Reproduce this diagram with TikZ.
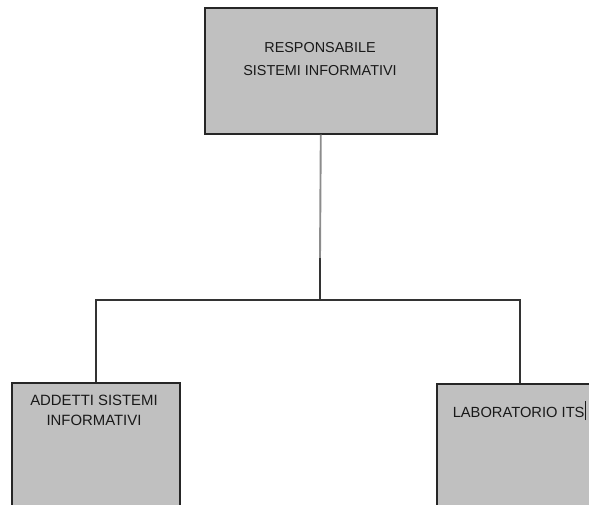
\documentclass[tikz,border=0pt]{standalone}
\usepackage{fontspec}
\setmainfont{Liberation Sans}
\begin{document}
\begin{tikzpicture}[x=1pt,y=1pt,
  box/.style={draw=black!85, line width=1.6pt, fill={rgb,255:red,192;green,192;blue,192}, inner sep=0pt, anchor=north west},
  lbl/.style={inner sep=0pt, align=center, text=black!90},
  conn/.style={draw=black!80, line width=1.7pt},
  connlight/.style={draw=black!45, line width=1.9pt}]
\useasboundingbox (0,0) rectangle (589,-505);
\clip (0,0) rectangle (589,-505);
\node[box, minimum width=232pt, minimum height=126pt] (top) at (204,-7) {};
\node[box, minimum width=168pt, minimum height=140pt] (left) at (11,-382) {};
\node[box, minimum width=166pt, minimum height=140pt] (right) at (436,-383) {};
\node[lbl, anchor=base, font=\fontsize{14.4}{23}\selectfont] (toptext) at (320,-76) {RESPONSABILE\\SISTEMI INFORMATIVI};
\node[lbl, anchor=base, font=\fontsize{14.9}{20}\selectfont] (lefttext) at (94,-425) {ADDETTI SISTEMI\\INFORMATIVI};
\node[lbl, anchor=base, font=\fontsize{14.7}{20}\selectfont] (righttext) at (519,-417) {LABORATORIO ITS\rule[-3pt]{0.7pt}{19pt}};
\coordinate (k) at (320,-258);
\coordinate (j) at (320,-300);
\draw[connlight] (top.south) -- (k);
\draw[conn] (k) -- (j);
\draw[conn] (left.north) |- (j) -| (right.north);
\end{tikzpicture}
\end{document}
